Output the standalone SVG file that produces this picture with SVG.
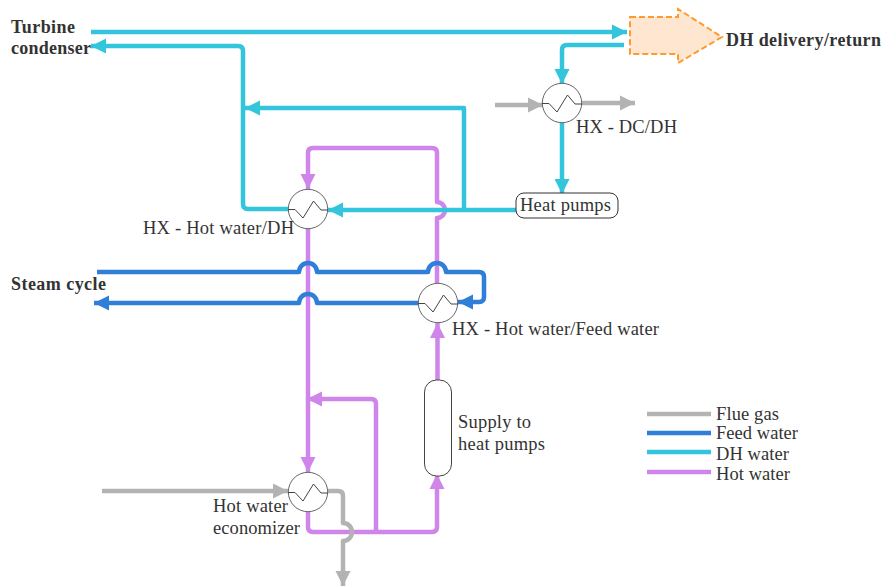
<svg xmlns="http://www.w3.org/2000/svg" width="883" height="587" viewBox="0 0 883 587">
<defs>
<marker id="aDH" markerUnits="userSpaceOnUse" markerWidth="16" markerHeight="16" refX="15" refY="8" orient="auto"><path d="M0 0.5L15 8L0 15.5Z" fill="#33c5dc"/></marker>
<marker id="aFW" markerUnits="userSpaceOnUse" markerWidth="16" markerHeight="16" refX="15" refY="8" orient="auto"><path d="M0 0.5L15 8L0 15.5Z" fill="#2f7ed8"/></marker>
<marker id="aHW" markerUnits="userSpaceOnUse" markerWidth="16" markerHeight="16" refX="15" refY="8" orient="auto"><path d="M0 0.5L15 8L0 15.5Z" fill="#cf85ea"/></marker>
<marker id="aFG" markerUnits="userSpaceOnUse" markerWidth="16" markerHeight="16" refX="15" refY="8" orient="auto"><path d="M0 0.5L15 8L0 15.5Z" fill="#b3b3b3"/></marker>
<g id="hxIcon"><circle r="19.7" fill="#fff" stroke="#666" stroke-width="1"/><path d="M-20 0.5H-13L-5 9L5.5 -8L13 1H20" fill="none" stroke="#444" stroke-width="1"/></g>
</defs>
<style>
text{font-family:"Liberation Serif","Times New Roman",serif;font-size:18.500px;fill:#333}
.b{font-weight:bold;font-size:18px}
.p{fill:none;stroke-width:4.500;stroke-linejoin:round}
.dh{stroke:#33c5dc}.fw{stroke:#2f7ed8}.hw{stroke:#cf85ea}.fg{stroke:#b3b3b3}
</style>
<rect width="883" height="587" fill="#fff"/>
<g id="connectors">
<path class="p hw" marker-end="url(#aHW)" d="M437.500 380V323"/>
<path class="p hw" marker-end="url(#aHW)" d="M437 283V218A8 8 0 0 0 437 202V153Q437 148 432 148H313Q308 148 308 153V189"/>
<path class="p hw" marker-end="url(#aHW)" d="M308 229V472"/>
<path class="p hw" marker-end="url(#aHW)" d="M308 512V527Q308 532 313 532H432Q437 532 437 527V474"/>
<path class="p hw" marker-end="url(#aHW)" d="M376 532V404Q376 399 371 399H307"/>
<path class="p dh" marker-end="url(#aDH)" d="M91 32H627"/>
<path class="p dh" marker-end="url(#aDH)" d="M624 45H567Q562 45 562 50V84"/>
<path class="p dh" marker-end="url(#aDH)" d="M562 123V194"/>
<path class="p dh" marker-end="url(#aDH)" d="M516 210H328"/>
<path class="p dh" marker-end="url(#aDH)" d="M464 210V108H245"/>
<path class="p dh" marker-end="url(#aDH)" d="M288 209H248Q243 209 243 204V51Q243 46 238 46H91"/>
<path class="p fw" marker-end="url(#aFW)" d="M97 272H299A9 9 0 0 1 317 272H428A9 9 0 0 1 446 272H479Q484 272 484 277V297Q484 302 479 302H458"/>
<path class="p fw" marker-end="url(#aFW)" d="M418 303H317A9 9 0 0 0 299 303H94"/>
<path class="p fg" marker-end="url(#aFG)" d="M495 105H543"/>
<path class="p fg" marker-end="url(#aFG)" d="M582 103H635"/>
<path class="p fg" marker-end="url(#aFG)" d="M102 491H288"/>
<path class="p fg" marker-end="url(#aFG)" d="M328 491H338Q343 491 343 496V523A9 9 0 0 1 343 541V586"/>
</g>
<g id="dh-delivery"><path d="M630 17H678V9L722 37L678 63V54H630Z" fill="#ffe6d0" stroke="#ff9a2e" stroke-width="2" stroke-dasharray="6 3"/><text class="b" x="726" y="46" textLength="155">DH delivery/return</text></g>
<g id="hx-dc-dh"><use href="#hxIcon" x="562" y="103"/><text x="576" y="133" textLength="101">HX - DC/DH</text></g>
<g id="heat-pumps"><rect x="516" y="193" width="102" height="25" rx="8" fill="#fff" stroke="#333" stroke-width="1"/><text x="520" y="211" textLength="91">Heat pumps</text></g>
<g id="hx-hot-dh"><use href="#hxIcon" x="308" y="209"/><text x="143" y="234" textLength="151">HX - Hot water/DH</text></g>
<g id="hx-hot-feed"><use href="#hxIcon" x="438" y="303"/><text x="452" y="335" textLength="207">HX - Hot water/Feed water</text></g>
<g id="hx-economizer"><use href="#hxIcon" x="308" y="492"/><text x="213" y="512" textLength="75">Hot water</text><text x="213" y="534" textLength="87">economizer</text></g>
<g id="vessel"><rect x="424.500" y="380" width="27" height="96" rx="12" fill="#fff" stroke="#444" stroke-width="1"/><text x="458" y="428" textLength="73">Supply to</text><text x="458" y="450" textLength="87">heat pumps</text></g>
<g id="turbine-condenser"><text class="b" x="11" y="33" textLength="64">Turbine</text><text class="b" x="11" y="54" textLength="80">condenser</text></g>
<g id="steam-cycle"><text class="b" x="11" y="290" textLength="95">Steam cycle</text></g>
<g id="legend">
<path class="p fg" d="M647 414H711"/><path class="p fw" d="M647 433H711"/><path class="p dh" d="M647 452H711"/><path class="p hw" d="M647 472H711"/>
<text x="716" y="420" textLength="63">Flue gas</text><text x="716" y="439" textLength="82">Feed water</text><text x="716" y="460" textLength="73">DH water</text><text x="716" y="480" textLength="74">Hot water</text>
</g>
</svg>
